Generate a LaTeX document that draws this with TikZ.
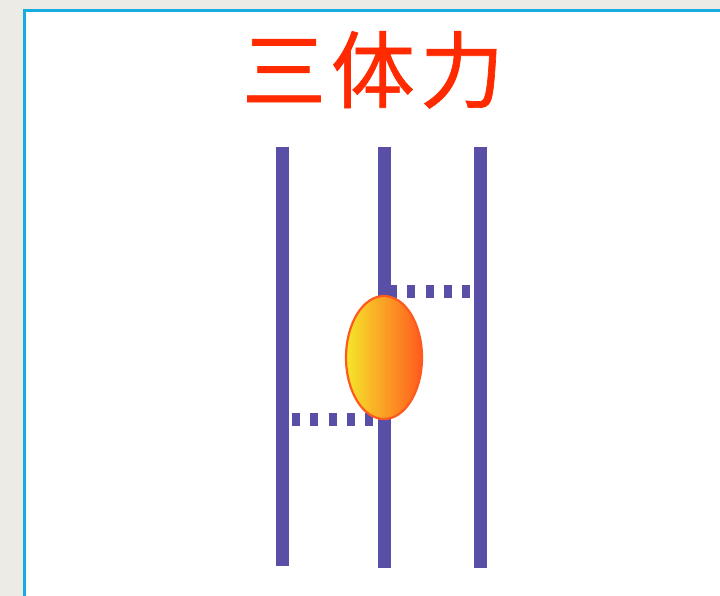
\documentclass[tikz,border=0pt]{standalone}
\usepackage{fontspec}
\newfontfamily\cjk[FakeBold=0.8]{Noto Sans CJK SC}
\usetikzlibrary{shapes.geometric}
\definecolor{bggray}{HTML}{ECEBE6}
\definecolor{frameblue}{HTML}{16ACE0}
\definecolor{titlered}{HTML}{FF2A00}
\definecolor{barpurple}{HTML}{5A4FA6}
\definecolor{ellyellow}{HTML}{F5E62A}
\definecolor{ellorange}{HTML}{FFA010}
\definecolor{ellred}{HTML}{FF5A1E}
\tikzset{
  bar/.style={draw=barpurple, line width=13pt},
  bond/.style={draw=barpurple, line width=13pt, dash pattern=on 8pt off 10.25pt},
}
\begin{document}
\begin{tikzpicture}[x=1pt,y=-1pt]
\useasboundingbox (0,0) rectangle (720,596);
% background and panel
\fill[bggray] (0,0) rectangle (720,596);
\fill[white] (24.5,10.5) rectangle (720,596);
\draw[frameblue, line width=2.8pt] (24.5,596) -- (24.5,10.5) -- (720,10.5);
% title
\node[anchor=base, text=titlered, font=\cjk\fontsize{84}{90}\selectfont, inner sep=0pt] (title) at (373,101.5) {三\kern5pt体\kern5pt力};
% vertical strands
\coordinate (lt) at (282,147); \coordinate (lb) at (282,566);
\coordinate (mt) at (384,147); \coordinate (mb) at (384,568);
\coordinate (rt) at (480,147); \coordinate (rb) at (480,568);
\draw[bar] (lt) -- (lb);
\draw[bar] (mt) -- (mb);
\draw[bar] (rt) -- (rb);
% dotted bonds
\coordinate (b1s) at (389,291.5); \coordinate (b1e) at (470,291.5);
\coordinate (b2s) at (292,419.5); \coordinate (b2e) at (373,419.5);
\draw[bond] (b1s) -- (b1e);
\draw[bond] (b2s) -- (b2e);
% protein ellipse
\node[ellipse, minimum width=76pt, minimum height=123pt, inner sep=0pt,
  draw=ellred, line width=2.2pt,
  left color=ellyellow, middle color=ellorange, right color=ellred] (prot) at (384,357.5) {};
\end{tikzpicture}
\end{document}
